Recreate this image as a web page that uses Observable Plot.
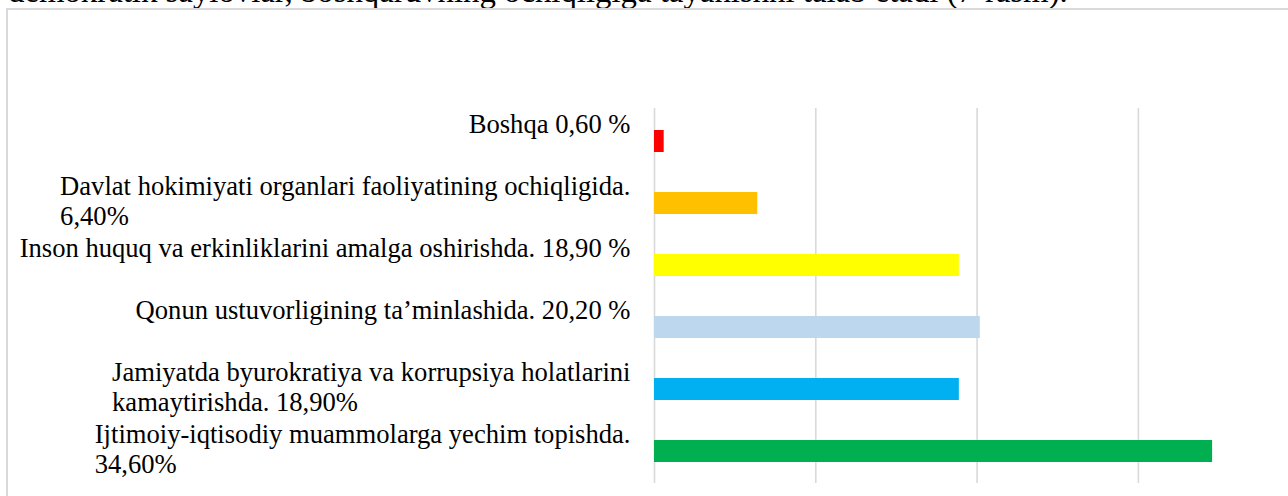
<!DOCTYPE html>
<html>
<head>
<meta charset="utf-8">
<script src="https://cdn.jsdelivr.net/npm/d3@7"></script>
<script src="https://cdn.jsdelivr.net/npm/@observablehq/plot@0.6"></script>
<style>
  html, body { margin: 0; padding: 0; background: #fff; overflow: hidden; }
  #wrap { position: relative; width: 1288px; height: 496px; overflow: hidden; }
  #toptext { position: absolute; left: 8px; top: -25.5px; font: 32.8px "Liberation Serif", "Times New Roman", serif; line-height: 33px; white-space: nowrap; color: #000; }
  #box { position: absolute; left: 6px; top: 8px; width: 1300px; height: 600px; border-top: 2px solid #dadada; border-left: 2px solid #dadada; }
  #chart { position: absolute; left: 0; top: 0; }
</style>
</head>
<body>
<div id="wrap">
  <div id="toptext">demokratik saylovlar, boshqaruvning ochiqligiga tayanishni talab etadi (7-rasm).</div>
  <div id="box"></div>
  <div id="chart"></div>
</div>
<script>
const labelLine1 = [
  "Boshqa 0,60 %",
  "Davlat hokimiyati organlari faoliyatining ochiqligida.",
  "Inson huquq va erkinliklarini amalga oshirishda. 18,90 %",
  "Qonun ustuvorligining ta’minlashida. 20,20 %",
  "Jamiyatda byurokratiya va korrupsiya holatlarini",
  "Ijtimoiy-iqtisodiy muammolarga yechim topishda."
];
const labelLine2 = ["", "6,40%", "", "", "kamaytirishda. 18,90%", "34,60%"];
const values = [0.6, 6.4, 18.9, 20.2, 18.9, 34.6];
const colors = ["#FF0000", "#FFC000", "#FFFF00", "#BDD7EE", "#00B0F0", "#00B050"];
const gridTicks = [0, 10, 20, 30];

const data = labelLine1.map((l, i) => ({cat: l, line2: labelLine2[i], value: values[i], color: colors[i]}));

const FONT_SIZE = 26.6;
const FONT_FAMILY = "'Liberation Serif', 'Times New Roman', serif";
const ctx = document.createElement("canvas").getContext("2d");
ctx.font = `${FONT_SIZE}px ${FONT_FAMILY}`;

const unit = 16.13;
const gap = 24;
const baseDy = -9;
const lineStep = 30;

const line2Marks = data.filter(d => d.line2).map(d => {
  const w = ctx.measureText(d.cat).width;
  return Plot.text([d], {
    x: () => 0, y: "cat", text: "line2",
    textAnchor: "start", lineAnchor: "bottom",
    dx: -gap - w, dy: baseDy + lineStep,
    fontSize: FONT_SIZE, fontFamily: FONT_FAMILY, fill: "#000"
  });
});

const chart = Plot.plot({
  width: 1288,
  height: 496,
  marginTop: 108,
  marginBottom: 13,
  marginLeft: 654,
  marginRight: 60,
  style: {background: "transparent", overflow: "visible"},
  x: {domain: [0, 35], range: [654, 654 + 35 * unit], axis: null},
  y: {type: "band", domain: labelLine1, paddingInner: 0.647, paddingOuter: 0.32, axis: null},
  color: {type: "identity"},
  marks: [
    Plot.ruleX(gridTicks, {stroke: "#d9d9d9", strokeWidth: 1.6}),
    Plot.barX(data, {x: "value", y: "cat", fill: "color"}),
    Plot.text(data, {
      x: () => 0, y: "cat", text: "cat",
      textAnchor: "end", lineAnchor: "bottom",
      dx: -gap, dy: baseDy,
      fontSize: FONT_SIZE, fontFamily: FONT_FAMILY, fill: "#000"
    }),
    ...line2Marks
  ]
});
document.getElementById("chart").appendChild(chart);
</script>
</body>
</html>
